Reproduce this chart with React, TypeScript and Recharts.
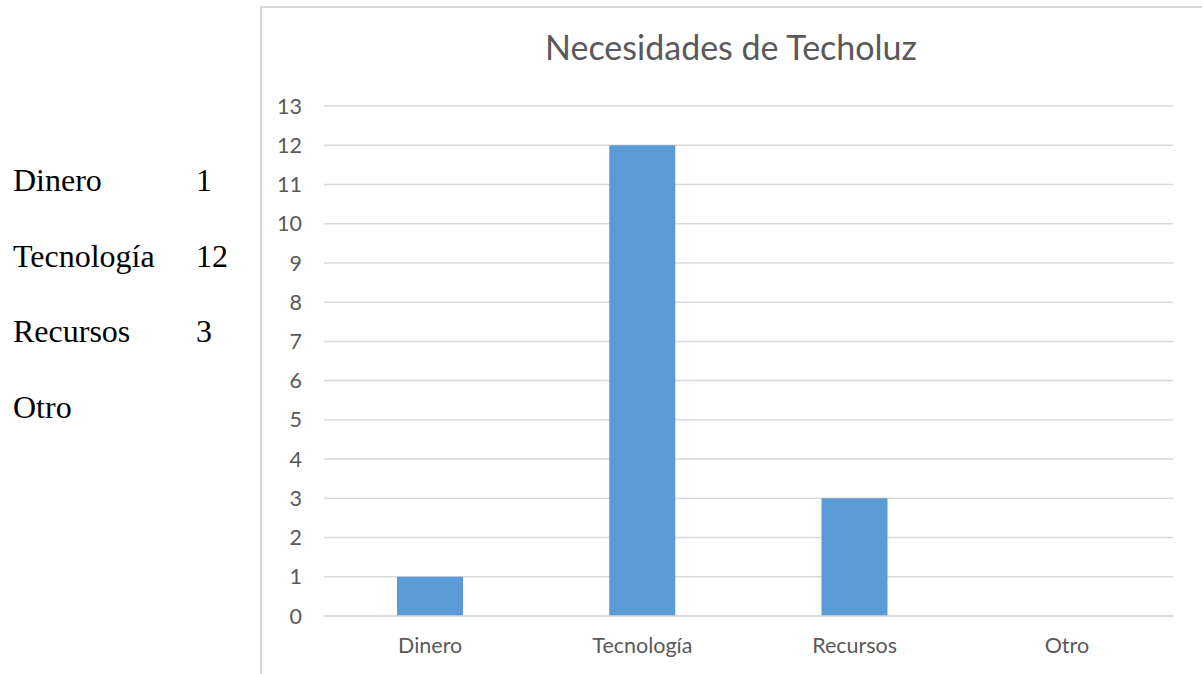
import React from "react";
import { BarChart, Bar, XAxis, YAxis, CartesianGrid } from "recharts";

const categories = ["Dinero", "Tecnología", "Recursos", "Otro"];
const counts: (number | null)[] = [1, 12, 3, null];
const yTicks = [0, 1, 2, 3, 4, 5, 6, 7, 8, 9, 10, 11, 12, 13];
const chartTitle = "Necesidades de Techoluz";

const data = categories.map((name, i) => ({ name, value: counts[i] }));

const grey = "#595959";
const gridColor = "#d9d9d9";
const sans = "Lato, 'Open Sans', sans-serif";
const serif = "'Liberation Serif', 'Times New Roman', serif";

export default function App() {
  return (
    <div
      style={{
        position: "absolute",
        left: 0,
        top: 0,
        width: 1202,
        height: 674,
        overflow: "hidden",
        background: "#fff",
      }}
    >
      {/* chart frame, only left and top edges are visible */}
      <div
        style={{
          position: "absolute",
          left: 260,
          top: 6,
          width: 1000,
          height: 700,
          borderLeft: `2px solid ${gridColor}`,
          borderTop: `2px solid ${gridColor}`,
          boxSizing: "border-box",
        }}
      />

      <div style={{ position: "absolute", left: 0, top: 0 }}>
        <BarChart
          width={1202}
          height={674}
          data={data}
          margin={{ top: 106, right: 29, bottom: 0, left: 264 }}
        >
          <CartesianGrid
            vertical={false}
            stroke={gridColor}
            strokeWidth={1.5}
          />
          <XAxis
            dataKey="name"
            height={58}
            tickLine={false}
            tickSize={0}
            tickMargin={22}
            axisLine={{ stroke: gridColor, strokeWidth: 1.5 }}
            tick={{ fill: grey, fontSize: 21.5, fontFamily: sans }}
          />
          <YAxis
            width={60}
            domain={[0, 13]}
            ticks={yTicks}
            interval={0}
            axisLine={false}
            tickLine={false}
            tickSize={0}
            tickMargin={22}
            tick={{ fill: grey, fontSize: 21.5, fontFamily: sans }}
          />
          <Bar
            dataKey="value"
            fill="#5b9bd5"
            barSize={66}
            isAnimationActive={false}
          />
        </BarChart>
      </div>

      <svg
        width={1202}
        height={674}
        style={{ position: "absolute", left: 0, top: 0, pointerEvents: "none" }}
      >
        <text
          x={731}
          y={60}
          textAnchor="middle"
          fill={grey}
          fontSize={34}
          fontFamily={sans}
        >
          {chartTitle}
        </text>
        {categories.map((c, i) => (
          <g key={c}>
            <text x={13} y={191 + i * 75.7} fontSize={32} fontFamily={serif} fill="#000">
              {c}
            </text>
            <text x={196} y={191 + i * 75.7} fontSize={32} fontFamily={serif} fill="#000">
              {counts[i] ?? ""}
            </text>
          </g>
        ))}
      </svg>
    </div>
  );
}
